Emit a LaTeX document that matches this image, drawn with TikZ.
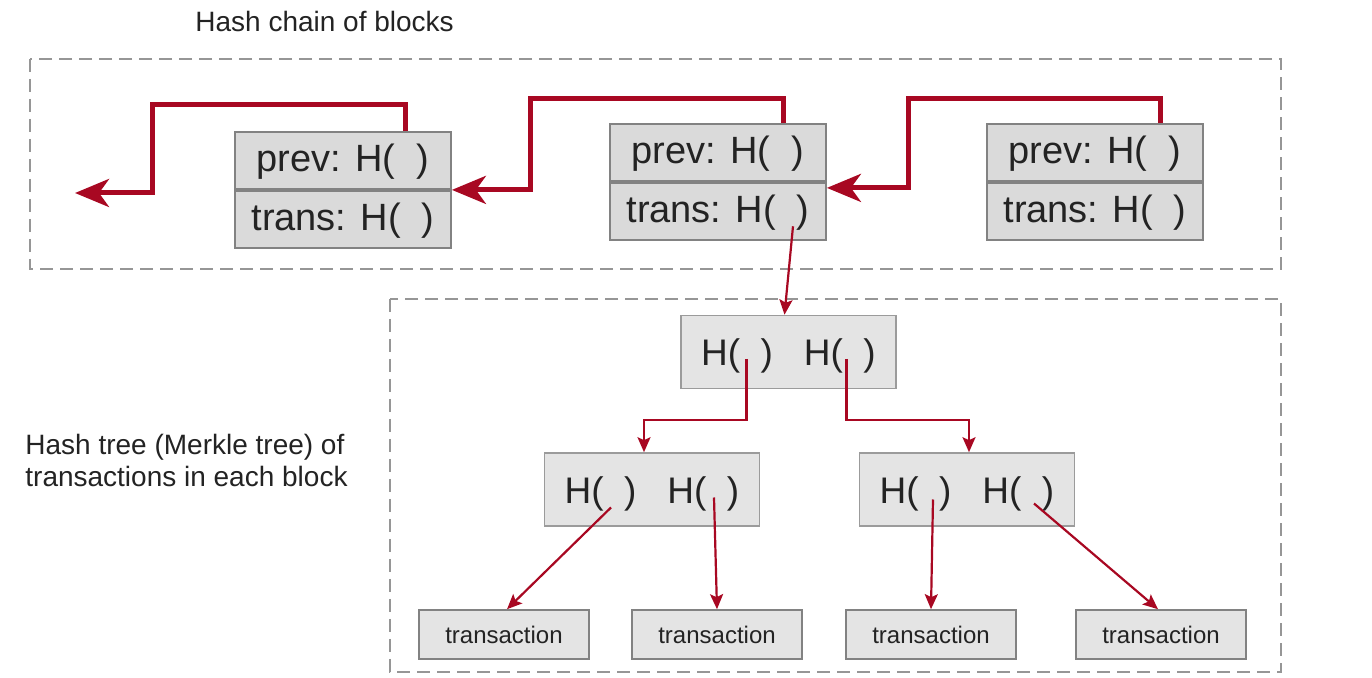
\documentclass[tikz,border=0pt]{standalone}
\usepackage{fontspec}
\setmainfont{Liberation Sans}
\usetikzlibrary{arrows.meta}

\begin{document}
\begin{tikzpicture}[x=0.5pt,y=-0.5pt,
  dashbox/.style={draw=hc_dash,line width=1.2pt,dash pattern=on 6.5pt off 3.5pt},
  blockpart/.style={draw=hc_border,fill=hc_fill,line width=0.9pt,inner sep=0pt,
    minimum width=108pt,minimum height=28.5pt,text=hc_text,
    font=\fontsize{19}{22}\selectfont,text height=14pt,text depth=3pt},
  hashpair/.style={draw=hc_border!80,fill=hc_light,line width=0.8pt,inner sep=0pt,
    minimum width=107.5pt,minimum height=36.5pt,text=hc_text,
    font=\fontsize{18.5}{22}\selectfont,text height=14pt,text depth=0pt},
  txbox/.style={draw=hc_border,fill=hc_light,line width=0.8pt,inner sep=0pt,
    minimum width=85pt,minimum height=24.5pt,text=hc_text,
    font=\fontsize{12}{14}\selectfont,text height=9pt,text depth=0pt},
  chainarrow/.style={draw=hc_red,line width=2.5pt,
    -{Stealth[length=17pt,width=14pt,inset=5pt]}},
  treearrow/.style={draw=hc_red,line width=1.1pt,
    -{Stealth[length=7.5pt,width=6.5pt,inset=1.5pt]}}]
% ------------------------------------------------ colors
\definecolor{hc_red}{RGB}{168,8,34}      %#A80822
\definecolor{hc_fill}{RGB}{218,218,218}  %#DADADA
\definecolor{hc_light}{RGB}{228,228,228} %#E4E4E4
\definecolor{hc_border}{RGB}{130,130,130}%#828282
\definecolor{hc_dash}{RGB}{150,150,150}  %#969696
\definecolor{hc_text}{RGB}{35,35,35}     %#232323

\useasboundingbox (0,0) rectangle (1372,678);

% ------------------------------------------------ dashed frames
\draw[dashbox] (30,59) rectangle (1281,269);
\draw[dashbox] (390,299) rectangle (1281,672);

\node[anchor=base west,inner sep=0pt,text=hc_text,font=\fontsize{14}{16}\selectfont]
  (chaintitle) at (195,32) {Hash chain of blocks};
\node[anchor=north west,inner sep=0pt,align=left,text=hc_text,font=\fontsize{14}{16}\selectfont]
  (treetitle) at (25,434) {Hash tree (Merkle tree) of\\transactions in each block};

% ------------------------------------------------ blocks of the chain
\node[blockpart] (prevA) at (343,160.5) {prev: H(\ \ )};
\node[blockpart,anchor=north] (transA) at (prevA.south) {trans: H(\ \ )};

\node[blockpart] (prevB) at (718,152.5) {prev: H(\ \ )};
\node[blockpart,anchor=north] (transB) at (prevB.south) {trans: H(\ \ )};

\node[blockpart] (prevC) at (1095,152.5) {prev: H(\ \ )};
\node[blockpart,anchor=north] (transC) at (prevC.south) {trans: H(\ \ )};

\coordinate (chainend) at (75,193);

\draw[chainarrow] ([xshift=31pt]prevA.north) |- (152,105) |- (chainend);
\draw[chainarrow] ([xshift=32.5pt]prevB.north) |- (530,99) |- (prevA.south east);
\draw[chainarrow] ([xshift=32.5pt]prevC.north) |- (908,99) |- ([yshift=-3pt]prevB.south east);

% ------------------------------------------------ merkle tree
\node[hashpair] (root) at (788.5,352) {H(\ \ )\ \ \ H(\ \ )};
\node[hashpair] (midL) at (652,489.5) {H(\ \ )\ \ \ H(\ \ )};
\node[hashpair] (midR) at (967,489.5) {H(\ \ )\ \ \ H(\ \ )};

\foreach \i/\x in {1/504,2/717,3/931,4/1161}
  \node[txbox] (tx\i) at (\x,634.5) {transaction};

\draw[treearrow] ([xshift=37.5pt,yshift=-7.5pt]transB.center) -- ([xshift=-2pt]root.north);

\draw[treearrow] ([xshift=-21pt,yshift=-3.5pt]root.center) -- ++(0,61) -| ([xshift=-4pt]midL.north);
\draw[treearrow] ([xshift=29pt,yshift=-3.5pt]root.center) -- ++(0,61) -| ([xshift=1pt]midR.north);

\draw[treearrow] ([xshift=-20.5pt,yshift=-9pt]midL.center) -- ([xshift=1.5pt]tx1.north);
\draw[treearrow] ([xshift=31pt,yshift=-4pt]midL.center) -- (tx2.north);
\draw[treearrow] ([xshift=-17pt,yshift=-5pt]midR.center) -- (tx3.north);
\draw[treearrow] ([xshift=33.5pt,yshift=-7pt]midR.center) -- ([xshift=-1.5pt]tx4.north);

\end{tikzpicture}
\end{document}
